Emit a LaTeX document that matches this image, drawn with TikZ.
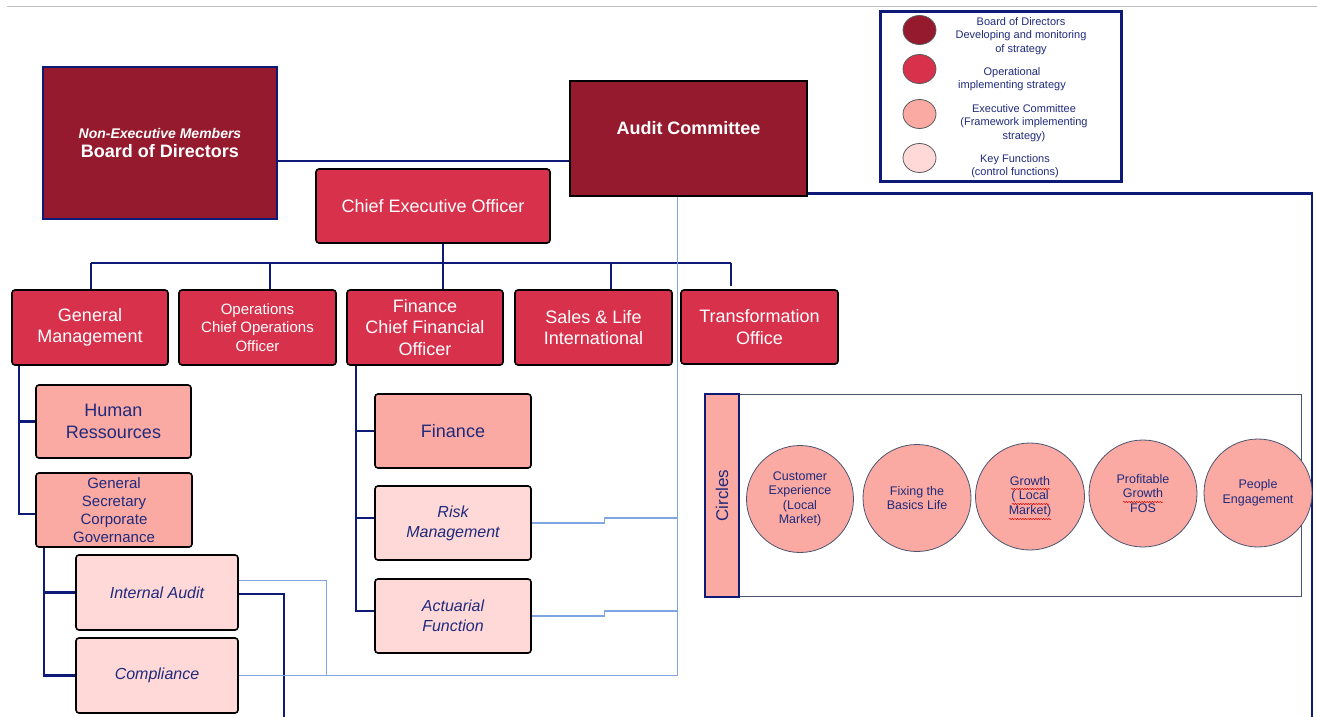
\documentclass[tikz,border=0pt]{standalone}
\usepackage{fontspec}
\setmainfont{Liberation Sans}
\usetikzlibrary{shapes.geometric,decorations.pathmorphing}
\definecolor{dred}{HTML}{961A2E}
\definecolor{cred}{HTML}{D8314C}
\definecolor{csal}{HTML}{FAAAA2}
\definecolor{cpink}{HTML}{FFD8D8}
\definecolor{lnavy}{HTML}{0E1A78}
\definecolor{tnavy}{HTML}{1F2A7C}
\definecolor{lblue}{HTML}{7FA6E3}
\definecolor{panelc}{HTML}{4A5470}
\begin{document}
\begin{tikzpicture}[x=1pt,y=-1pt,
  box/.style={draw=black, line width=1.6pt, rounded corners=3pt, align=center, inner sep=0pt},
  redbox/.style={box, fill=cred, text=white, font=\fontsize{18}{21.5}\selectfont},
  salbox/.style={box, fill=csal, text=tnavy, font=\fontsize{18}{22}\selectfont},
  pinkbox/.style={box, fill=cpink, text=tnavy, font=\fontsize{16}{20}\selectfont\itshape},
  nv/.style={draw=lnavy, line width=2.9pt},
  lb/.style={draw=lblue, line width=1.3pt},
  circ/.style={ellipse, draw=panelc, line width=0.8pt, fill=csal, text=tnavy, align=center, inner sep=0pt, font=\fontsize{12.5}{14.5}\selectfont},
  legc/.style={ellipse, draw=black!65, line width=0.8pt, minimum width=33pt, minimum height=29pt, inner sep=0pt},
  legt/.style={text=tnavy, align=center, font=\fontsize{11}{13.5}\selectfont, inner sep=0pt},
  squig/.style={draw=red!85!black, line width=0.5pt, decorate, decoration={snake, amplitude=0.6pt, segment length=2.6pt}}
]
\useasboundingbox (0,0) rectangle (1317,717);
\draw[black!25, line width=1pt] (7,7) -- (1317,7);

% top level
\node[draw=lnavy, line width=1.4pt, fill=dred, text=white, align=center, inner sep=0pt,
  minimum width=234pt, minimum height=152pt, font=\fontsize{18}{19.5}\selectfont\bfseries] (bod) at (160,143)
  {{\fontsize{14}{16}\selectfont\itshape Non-Executive Members}\\Board of Directors};
\node[box, rounded corners=0pt, fill=dred, minimum width=237pt, minimum height=115pt] (ac) at (688.5,138.5) {};
\node[text=white, font=\fontsize{18}{21}\selectfont\bfseries, inner sep=0pt] (actxt) at ([yshift=10pt]ac.center) {Audit Committee};
\node[redbox, minimum width=234pt, minimum height=74pt] (ceo) at (433,206) {Chief Executive Officer};

% level 2
\node[redbox, minimum width=156pt, minimum height=75pt] (gm) at (90,327.5) {General\\Management};
\node[redbox, minimum width=157pt, minimum height=75pt, font=\fontsize{15}{18.5}\selectfont] (ops) at (257.5,327.5) {Operations\\Chief Operations\\Officer};
\node[redbox, minimum width=156pt, minimum height=75pt] (cfo) at (425,327.5) {Finance\\Chief Financial\\Officer};
\node[redbox, minimum width=157pt, minimum height=75pt] (sales) at (593.5,327.5) {Sales \& Life\\International};
\node[redbox, minimum width=157pt, minimum height=74pt] (trans) at (759.5,327) {Transformation\\Office};

% level 3
\node[salbox, minimum width=155pt, minimum height=73pt] (hr) at (113.5,421.5) {Human\\Ressources};
\node[salbox, minimum width=156pt, minimum height=74pt, font=\fontsize{15}{18}\selectfont] (gs) at (114,510) {General\\Secretary\\Corporate\\Governance};
\node[pinkbox, minimum width=162pt, minimum height=75pt] (ia) at (157,592.5) {Internal Audit};
\node[pinkbox, minimum width=162pt, minimum height=75pt] (comp) at (157,675.5) {Compliance};
\node[salbox, minimum width=156pt, minimum height=74pt] (fin) at (453,431) {Finance};
\node[pinkbox, minimum width=156pt, minimum height=74pt] (risk) at (453,523) {Risk\\Management};
\node[pinkbox, minimum width=156pt, minimum height=74pt] (act) at (453,616) {Actuarial\\Function};

% coordinates
\coordinate (busL) at (91,263);
\coordinate (busR) at (731,263);
\coordinate (lbB) at (677.5,675.5);
\coordinate (iaB) at (284,717);
\coordinate (rb) at (1312,717);

% navy connectors
\path ([yshift=-18pt]bod.east) coordinate (bl);
\draw[nv] (bl) -- (bl -| ac.west);
\draw[nv] ([yshift=-55pt]ac.east) -| (rb);
\draw[nv] (busL) -- (busR);
\draw[nv] ([xshift=10pt]ceo.south) -- ([xshift=18pt]cfo.north);
\draw[nv] (busL) -- (busL |- gm.north);
\path ([xshift=12.5pt]ops.north) coordinate (opsT);
\draw[nv] (opsT) -- (opsT |- busL);
\path ([xshift=17.5pt]sales.north) coordinate (salT);
\draw[nv] (salT) -- (salT |- busL);
\draw[nv] (busR) -- ++(0,23);

\path ([xshift=-71pt]gm.south) coordinate (gmS);
\draw[nv] (gmS) |- ([yshift=-4pt]gs.west);
\draw[nv] (gmS |- hr.west) -- (hr.west);
\path ([xshift=-70pt]gs.south) coordinate (gsS);
\draw[nv] (gsS) |- (comp.west);
\draw[nv] (gsS |- ia.west) -- (ia.west);
\path ([xshift=-69pt]cfo.south) coordinate (cfoS);
\draw[nv] (cfoS) |- ([yshift=5pt]act.west);
\draw[nv] (cfoS |- fin.west) -- (fin.west);
\path ([yshift=5pt]risk.west) coordinate (rw);
\draw[nv] (cfoS |- rw) -- (rw);
\draw[nv] ([yshift=-1.5pt]ia.east) -| (iaB);

% light blue connectors
\draw[lb] ([xshift=-11pt]ac.south) -- (lbB);
\draw[lb] (risk.east) -- ++(73,0) -- ++(0,-5) -- ++(73.5,0);
\draw[lb] (act.east) -- ++(73,0) -- ++(0,-5) -- ++(73.5,0);
\draw[lb] ([yshift=12pt]ia.east) -- ++(88,0) |- (lbB);
\draw[lb] (comp.east) -- ++(88,0);

% circles panel
\draw[draw=panelc, line width=1pt] (705,394) rectangle (1301,596);
\node[rotate=90, draw=lnavy, line width=1.4pt, fill=csal, text=tnavy, inner sep=0pt,
  minimum width=203pt, minimum height=34pt, font=\fontsize{17}{20}\selectfont] (cb) at (722,495.5) {Circles};
\node[circ, minimum width=107pt, minimum height=107pt] (c1) at (800,499) {Customer\\Experience\\(Local\\Market)};
\node[circ, minimum width=108pt, minimum height=107pt] (c2) at (917,498) {Fixing the\\Basics Life};
\node[circ, minimum width=109pt, minimum height=107pt] (c3) at (1030,496.5) {Growth\\( Local\\Market)};
\node[circ, minimum width=108pt, minimum height=107pt] (c4) at (1143,493.5) {Profitable\\Growth\\FOS};
\node[circ, minimum width=108pt, minimum height=108pt] (c5) at (1258,493) {People\\Engagement};
\draw[squig] (1011,489) -- (1050,489);
\draw[squig] (1012,504) -- (1049,504);
\draw[squig] (1009,519) -- (1051,519);
\draw[squig] (1123,502) -- (1163,502);

% legend
\node[draw=lnavy, line width=2.4pt, minimum width=241pt, minimum height=170pt, inner sep=0pt] (leg) at (1001,96.5) {};
\node[legc, fill=dred] (l1) at (919.5,30) {};
\node[legc, fill=cred] (l2) at (919.5,69) {};
\node[legc, fill=csal] (l3) at (919.5,114) {};
\node[legc, fill=cpink] (l4) at (919.5,158) {};
\node[legt] (t1) at (1021,36) {Board of Directors\\Developing and monitoring\\of strategy};
\node[legt] (t2) at (1012,79) {Operational\\implementing strategy};
\node[legt] (t3) at (1024,123) {Executive Committee\\(Framework implementing\\strategy)};
\node[legt] (t4) at (1015,166) {Key Functions\\(control functions)};
\end{tikzpicture}
\end{document}
